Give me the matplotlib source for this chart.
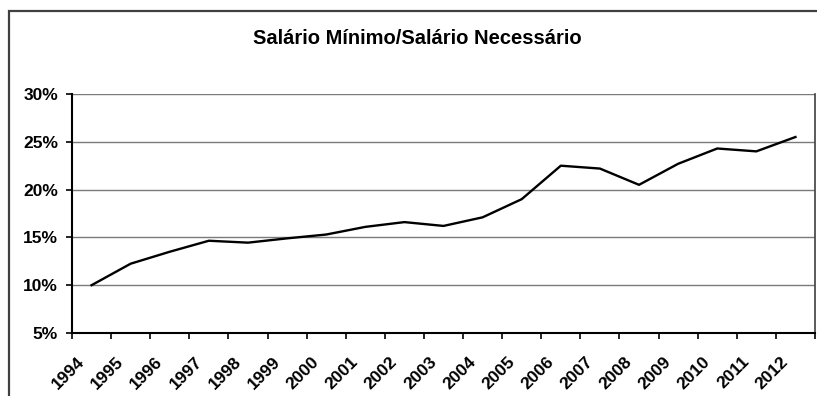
import matplotlib
matplotlib.use('Agg')
import matplotlib.pyplot as plt
import matplotlib.transforms as mtransforms
from matplotlib.patches import Rectangle
from matplotlib.ticker import FuncFormatter

# razão salário mínimo / salário necessário (DIEESE), em %
anos = ['1994', '1995', '1996', '1997', '1998', '1999', '2000', '2001', '2002', '2003',
        '2004', '2005', '2006', '2007', '2008', '2009', '2010', '2011', '2012']
razao = [10.0, 12.25, 13.5, 14.65, 14.45, 14.9, 15.3, 16.1, 16.6, 16.2,
         17.1, 19.0, 22.5, 22.2, 20.5, 22.7, 24.3, 24.0, 25.5]
yticks = [5, 10, 15, 20, 25, 30]

plt.rcParams['font.family'] = ['Liberation Sans', 'DejaVu Sans']
plt.rcParams['font.weight'] = 'bold'

fig = plt.figure(figsize=(8.17, 3.96), dpi=100)
ax = fig.add_axes([72/817, 63/396, 743/817, 239/396])

x = list(range(len(anos)))
ax.plot(x, razao, color='black', lw=1.7, zorder=3)

ax.set_xlim(-0.5, len(anos) - 0.5)
ax.set_ylim(5, 30)
ax.set_yticks(yticks)
ax.yaxis.set_major_formatter(FuncFormatter(lambda v, p: '%d%%' % v))
ax.grid(axis='y', color='#7a7a7a', lw=1.0)
ax.set_axisbelow(True)

# rótulos no centro das categorias, marcas nas divisões
ax.set_xticks(x)
ax.set_xticklabels(anos, rotation=45, ha='right', va='top', fontsize=12.5, fontweight='bold')
ax.set_xticks([i - 0.5 for i in range(len(anos) + 1)], minor=True)
ax.tick_params(axis='x', which='major', length=0, pad=0)
ax.tick_params(axis='x', which='minor', length=4.5, width=1.2, direction='out', color='black')
ax.tick_params(axis='y', length=4, width=1.2, direction='out', color='black', labelsize=12.5, pad=6)
for lab in ax.get_yticklabels():
    lab.set_fontweight('bold')

offset = mtransforms.ScaledTranslation(-4/100, -21/100, fig.dpi_scale_trans)
for lab in ax.get_xticklabels():
    lab.set_transform(lab.get_transform() + offset)

ax.spines['top'].set_visible(False)
ax.spines['left'].set_linewidth(1.5)
ax.spines['bottom'].set_linewidth(1.5)
ax.spines['right'].set_color('#404040')
ax.spines['right'].set_linewidth(1.2)

fig.text(417/817, 1 - 39/396, 'Salário Mínimo/Salário Necessário',
         ha='center', va='center', fontsize=14.5, fontweight='bold')

# moldura da área do gráfico
fig.patches.append(Rectangle((9/817, -0.1), 1.2, (396 - 11)/396 + 0.1,
                             transform=fig.transFigure, fill=False,
                             edgecolor='#404040', lw=1.6))

fig.savefig('out.png', dpi=100)
